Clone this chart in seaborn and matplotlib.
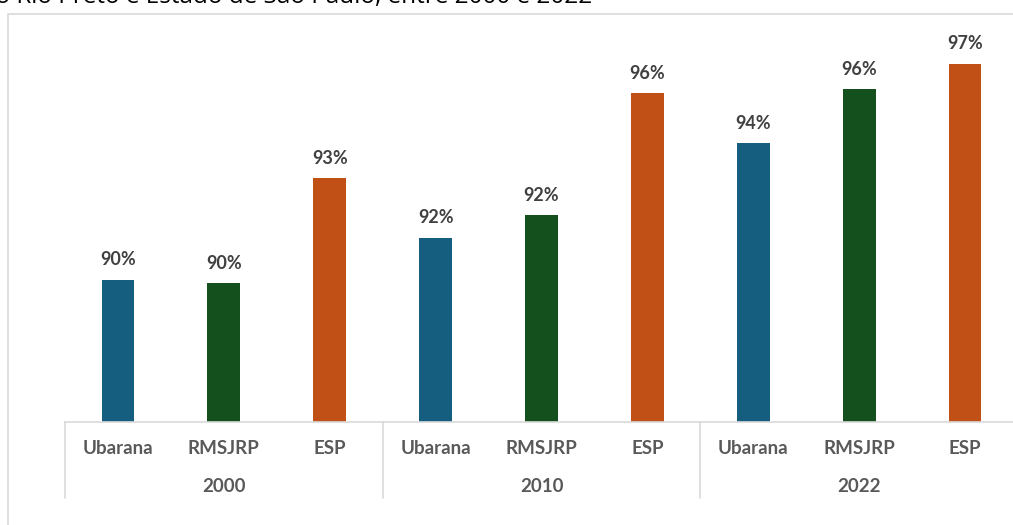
import pandas as pd
import matplotlib.pyplot as plt
import matplotlib.transforms as mtransforms
from matplotlib.patches import Rectangle
import seaborn as sns

# Data (percent)
years = ['2000', '2010', '2022']
places = ['Ubarana', 'RMSJRP', 'ESP']
values_2000 = [90.4, 90.3, 93.3]
values_2010 = [91.6, 92.25, 95.73]
values_2022 = [94.3, 95.85, 96.57]
title = 'Região Metropolitana de São José do Rio Preto e Estado de São Paulo, entre 2000 e 2022'

colors = {'Ubarana': '#165E80', 'RMSJRP': '#14501E', 'ESP': '#C05016'}

rows = []
for year, vals in zip(years, [values_2000, values_2010, values_2022]):
    for place, v in zip(places, vals):
        rows.append({'year': year, 'place': place, 'value': v, 'key': year + '_' + place})
df = pd.DataFrame(rows)

sns.set_style('white')
plt.rcParams['font.family'] = ['Lato', 'DejaVu Sans']

W, H = 1013, 525
fig = plt.figure(figsize=(W / 100, H / 100), dpi=100)

# axes geometry in pixels
ax_left, ax_right, ax_base, ax_top = 65, 1018, 422, 28
ax = fig.add_axes([ax_left / W, 1 - ax_base / H, (ax_right - ax_left) / W, (ax_base - ax_top) / H])

sns.barplot(data=df, x='key', y='value', hue='place', palette=colors, dodge=False,
            width=0.31, linewidth=0, saturation=1, legend=False, ax=ax)

ymin = 86.34
ax.set_ylim(ymin, ymin + (ax_base - ax_top) / 35)
ax.set_xlim(-0.5, len(df) - 0.5)

# value labels
for i, v in enumerate(df['value']):
    ax.annotate(f'{v:.0f}%', (i, v), xytext=(0, 14.5), textcoords='offset points',
                ha='center', va='center', fontsize=13, fontweight='bold', color='#404040')

# axes styling
sns.despine(ax=ax, left=True)
ax.spines['bottom'].set_color('#D9D9D9')
ax.spines['bottom'].set_linewidth(1.2)
ax.set_yticks([])
ax.set_xlabel('')
ax.set_ylabel('')
ax.set_xticks([])

trans = mtransforms.blended_transform_factory(ax.transData, ax.transAxes)
ax_h = ax_base - ax_top
for i, place in enumerate(df['place']):
    ax.text(i, -26 / ax_h, place, transform=trans, ha='center', va='center',
            fontsize=13.5, fontweight='bold', color='#595959')
for g, year in enumerate(years):
    ax.text(g * 3 + 1, -65 / ax_h, year, transform=trans, ha='center', va='center',
            fontsize=13.5, fontweight='bold', color='#595959')
for xb in [-0.5, 2.5, 5.5, 8.5]:
    ax.plot([xb, xb], [0, -76 / ax_h], transform=trans, color='#D9D9D9', lw=1.2, clip_on=False)

# chart area frame and cut-off title
fig.patches.append(Rectangle((8 / W, -0.2), 1.2, 1.2 - 14 / H, transform=fig.transFigure,
                             fill=False, edgecolor='#D9D9D9', lw=1.2))
fig.text(592 / W, 1 - 3 / H, title, ha='right', va='baseline', fontsize=17.5, color='black',
         family=['Open Sans', 'DejaVu Sans'])

plt.savefig('out.png', dpi=100)
